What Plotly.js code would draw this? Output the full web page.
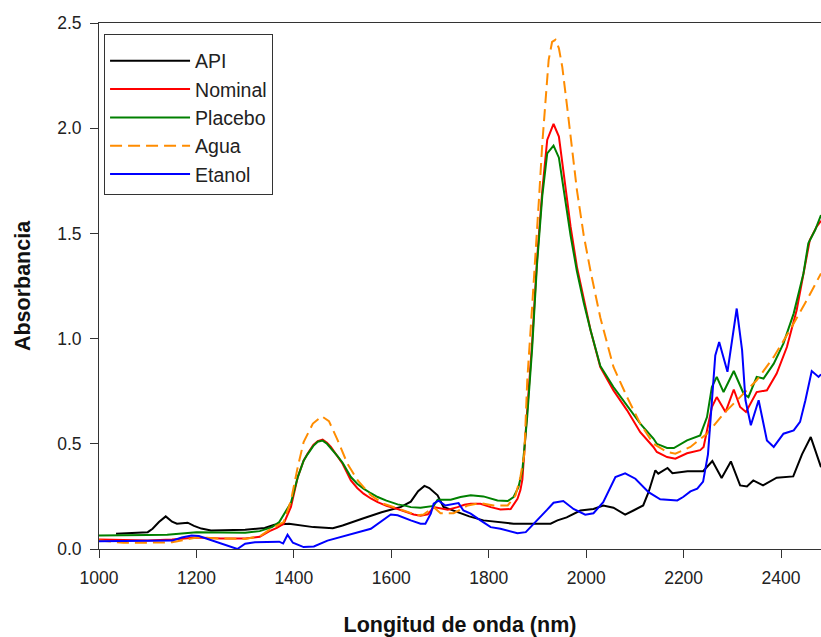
<!DOCTYPE html>
<html>
<head>
<meta charset="utf-8">
<script src="https://cdn.plot.ly/plotly-3.0.1.min.js"></script>
<style>
html,body{margin:0;padding:0;background:#fff;}
#chart{width:821px;height:637px;}
</style>
</head>
<body>
<div id="chart"></div>
<script>
// ---- Data ----
const seriesNames = ["API", "Nominal", "Placebo", "Agua", "Etanol"];

const apiX = [1035,1060,1100,1110,1123,1137,1150,1160,1182,1195,1210,1230,1280,1300,1340,1360,1390,1410,1440,1480,1500,1540,1580,1620,1640,1655,1668,1678,1695,1707,1736,1760,1789,1824,1851,1927,1941,1960,1988,2015,2035,2056,2080,2097,2117,2128,2142,2148,2167,2177,2208,2240,2259,2278,2297,2316,2330,2343,2363,2391,2425,2443,2461,2482];
const apiY = [0.072,0.075,0.080,0.096,0.128,0.155,0.130,0.120,0.125,0.110,0.097,0.088,0.088,0.091,0.100,0.115,0.120,0.115,0.104,0.099,0.112,0.144,0.175,0.200,0.225,0.275,0.300,0.290,0.255,0.200,0.175,0.155,0.136,0.128,0.120,0.120,0.136,0.150,0.183,0.190,0.207,0.196,0.163,0.183,0.207,0.270,0.374,0.358,0.385,0.360,0.370,0.370,0.418,0.337,0.416,0.302,0.297,0.326,0.302,0.339,0.345,0.450,0.532,0.389];

const nominalX = [1000,1050,1100,1150,1200,1250,1300,1330,1350,1365,1379,1394,1408,1420,1428,1440,1449,1459,1468,1476,1490,1500,1517,1530,1543,1558,1572,1590,1613,1630,1646,1660,1675,1687,1700,1716,1736,1750,1763,1783,1804,1824,1845,1859,1865,1869,1879,1889,1899,1910,1920,1933,1944,1954,1968,1981,1995,2009,2029,2056,2084,2111,2138,2145,2166,2183,2207,2234,2241,2258,2268,2286,2303,2316,2328,2340,2350,2371,2391,2412,2432,2450,2459,2473,2482];
const nominalY = [0.045,0.042,0.040,0.045,0.055,0.050,0.050,0.058,0.085,0.100,0.120,0.200,0.342,0.420,0.453,0.495,0.513,0.520,0.505,0.485,0.440,0.405,0.326,0.290,0.263,0.240,0.223,0.205,0.190,0.175,0.164,0.158,0.165,0.199,0.192,0.187,0.199,0.210,0.215,0.215,0.199,0.188,0.190,0.239,0.280,0.330,0.659,0.977,1.373,1.706,1.944,2.020,1.960,1.770,1.532,1.341,1.183,1.040,0.865,0.754,0.659,0.555,0.485,0.461,0.437,0.429,0.455,0.470,0.485,0.675,0.722,0.651,0.758,0.675,0.651,0.707,0.746,0.754,0.834,0.960,1.135,1.357,1.468,1.532,1.560];

const placeboX = [1000,1050,1100,1140,1170,1200,1250,1300,1330,1355,1370,1385,1394,1408,1420,1428,1440,1449,1459,1468,1476,1490,1500,1517,1530,1543,1558,1572,1590,1613,1630,1640,1660,1670,1687,1695,1722,1742,1763,1789,1818,1839,1851,1861,1869,1879,1889,1899,1910,1920,1933,1944,1954,1968,1981,1995,2009,2029,2056,2084,2111,2138,2145,2166,2180,2207,2234,2248,2258,2268,2282,2303,2323,2333,2350,2364,2385,2405,2426,2446,2456,2470,2482];
const placeboY = [0.064,0.064,0.066,0.068,0.075,0.080,0.078,0.077,0.085,0.104,0.128,0.183,0.220,0.342,0.420,0.450,0.490,0.510,0.515,0.500,0.480,0.440,0.410,0.342,0.310,0.287,0.265,0.247,0.230,0.212,0.205,0.199,0.196,0.199,0.205,0.234,0.234,0.247,0.255,0.250,0.231,0.228,0.247,0.294,0.374,0.630,0.950,1.350,1.680,1.880,1.917,1.860,1.700,1.490,1.320,1.170,1.040,0.870,0.770,0.680,0.596,0.525,0.500,0.480,0.480,0.516,0.540,0.627,0.770,0.818,0.746,0.846,0.739,0.722,0.818,0.810,0.881,0.977,1.120,1.310,1.453,1.516,1.587];

const aguaX = [1000,1050,1100,1150,1180,1200,1250,1300,1330,1353,1379,1394,1408,1420,1439,1457,1472,1490,1510,1531,1558,1584,1625,1654,1666,1687,1701,1728,1757,1783,1810,1839,1855,1865,1873,1879,1889,1896,1903,1910,1916,1923,1930,1937,1944,1951,1961,1971,1981,1995,2009,2029,2056,2084,2111,2138,2166,2183,2214,2248,2282,2316,2350,2385,2418,2453,2482];
const aguaY = [0.040,0.030,0.030,0.032,0.045,0.055,0.050,0.048,0.060,0.096,0.128,0.230,0.390,0.508,0.596,0.631,0.608,0.516,0.405,0.326,0.255,0.215,0.183,0.160,0.164,0.199,0.170,0.170,0.207,0.218,0.207,0.207,0.255,0.342,0.450,0.800,1.150,1.380,1.660,1.930,2.135,2.325,2.410,2.420,2.380,2.290,2.100,1.897,1.706,1.490,1.320,1.100,0.865,0.722,0.596,0.500,0.461,0.453,0.485,0.548,0.643,0.722,0.802,0.913,1.040,1.183,1.310];

const etanolX = [1000,1100,1150,1170,1190,1205,1220,1250,1284,1300,1320,1370,1378,1387,1398,1420,1441,1469,1523,1558,1599,1613,1640,1660,1670,1681,1687,1697,1711,1726,1738,1748,1763,1783,1804,1824,1859,1876,1900,1920,1933,1953,1974,1998,2015,2035,2060,2080,2101,2128,2152,2187,2199,2214,2228,2240,2250,2258,2265,2273,2290,2309,2320,2327,2338,2354,2363,2371,2385,2405,2426,2439,2450,2463,2477,2482];
const etanolY = [0.037,0.037,0.040,0.055,0.064,0.062,0.050,0.025,0.000,0.025,0.032,0.035,0.026,0.068,0.030,0.009,0.012,0.040,0.072,0.096,0.164,0.160,0.136,0.120,0.120,0.168,0.215,0.230,0.207,0.215,0.218,0.183,0.168,0.136,0.104,0.096,0.075,0.080,0.136,0.187,0.220,0.228,0.190,0.163,0.170,0.223,0.342,0.360,0.334,0.270,0.236,0.231,0.247,0.274,0.287,0.320,0.450,0.700,0.920,0.984,0.842,1.143,0.945,0.707,0.588,0.707,0.612,0.516,0.485,0.548,0.564,0.604,0.707,0.846,0.818,0.830];

const xTickVals = [1000,1200,1400,1600,1800,2000,2200,2400];
const yTickVals = [0.0,0.5,1.0,1.5,2.0,2.5];
const yTickText = ["0.0","0.5","1.0","1.5","2.0","2.5"];

// ---- Traces ----
const xs = [apiX, nominalX, placeboX, aguaX, etanolX];
const ys = [apiY, nominalY, placeboY, aguaY, etanolY];
const colors = ["#000000", "#ff0000", "#008000", "#ff8c00", "#0000ff"];
const dashes = ["solid", "solid", "solid", "12px,6px", "solid"];

const traces = seriesNames.map((name, i) => ({
  type: "scatter",
  mode: "lines",
  name: name,
  x: xs[i],
  y: ys[i],
  line: {color: colors[i], width: 2, dash: dashes[i]}
}));

const layout = {
  width: 821,
  height: 637,
  margin: {l: 99, r: 0, t: 23, b: 88},
  paper_bgcolor: "#ffffff",
  plot_bgcolor: "#ffffff",
  font: {family: "Liberation Sans, Arial, sans-serif", color: "#222"},
  showlegend: true,
  legend: {
    x: 0.007, y: 0.979, xanchor: "left", yanchor: "top",
    bgcolor: "#ffffff", bordercolor: "#333", borderwidth: 1,
    font: {size: 19.5, color: "#222", family: "Liberation Sans, Arial, sans-serif"},
    itemwidth: 80,
    title: {text: " ", font: {size: 5}}
  },
  xaxis: {
    range: [1000, 2482],
    tickvals: xTickVals,
    ticks: "outside", ticklen: 8, tickwidth: 1, tickcolor: "#333",
    showline: true, linecolor: "#333", linewidth: 1, mirror: true,
    showgrid: false, zeroline: false,
    tickfont: {size: 17.5, color: "#222"},
    ticklabelstandoff: 5,
    title: {text: "Longitud de onda (nm)", font: {size: 21.5, color: "#111", family: "Liberation Sans, Arial, sans-serif", weight: "bold"}, standoff: 34}
  },
  yaxis: {
    range: [0, 2.5],
    tickvals: yTickVals,
    ticktext: yTickText,
    ticks: "outside", ticklen: 8, tickwidth: 1, tickcolor: "#333",
    showline: true, linecolor: "#333", linewidth: 1,
    showgrid: false, zeroline: false,
    tickfont: {size: 17.5, color: "#222"},
    ticklabelstandoff: 5,
    title: {text: "Absorbancia", font: {size: 21.5, color: "#111", family: "Liberation Sans, Arial, sans-serif", weight: "bold"}, standoff: 20}
  }
};

Plotly.newPlot("chart", traces, layout, {displayModeBar: false, staticPlot: true});
</script>
</body>
</html>
